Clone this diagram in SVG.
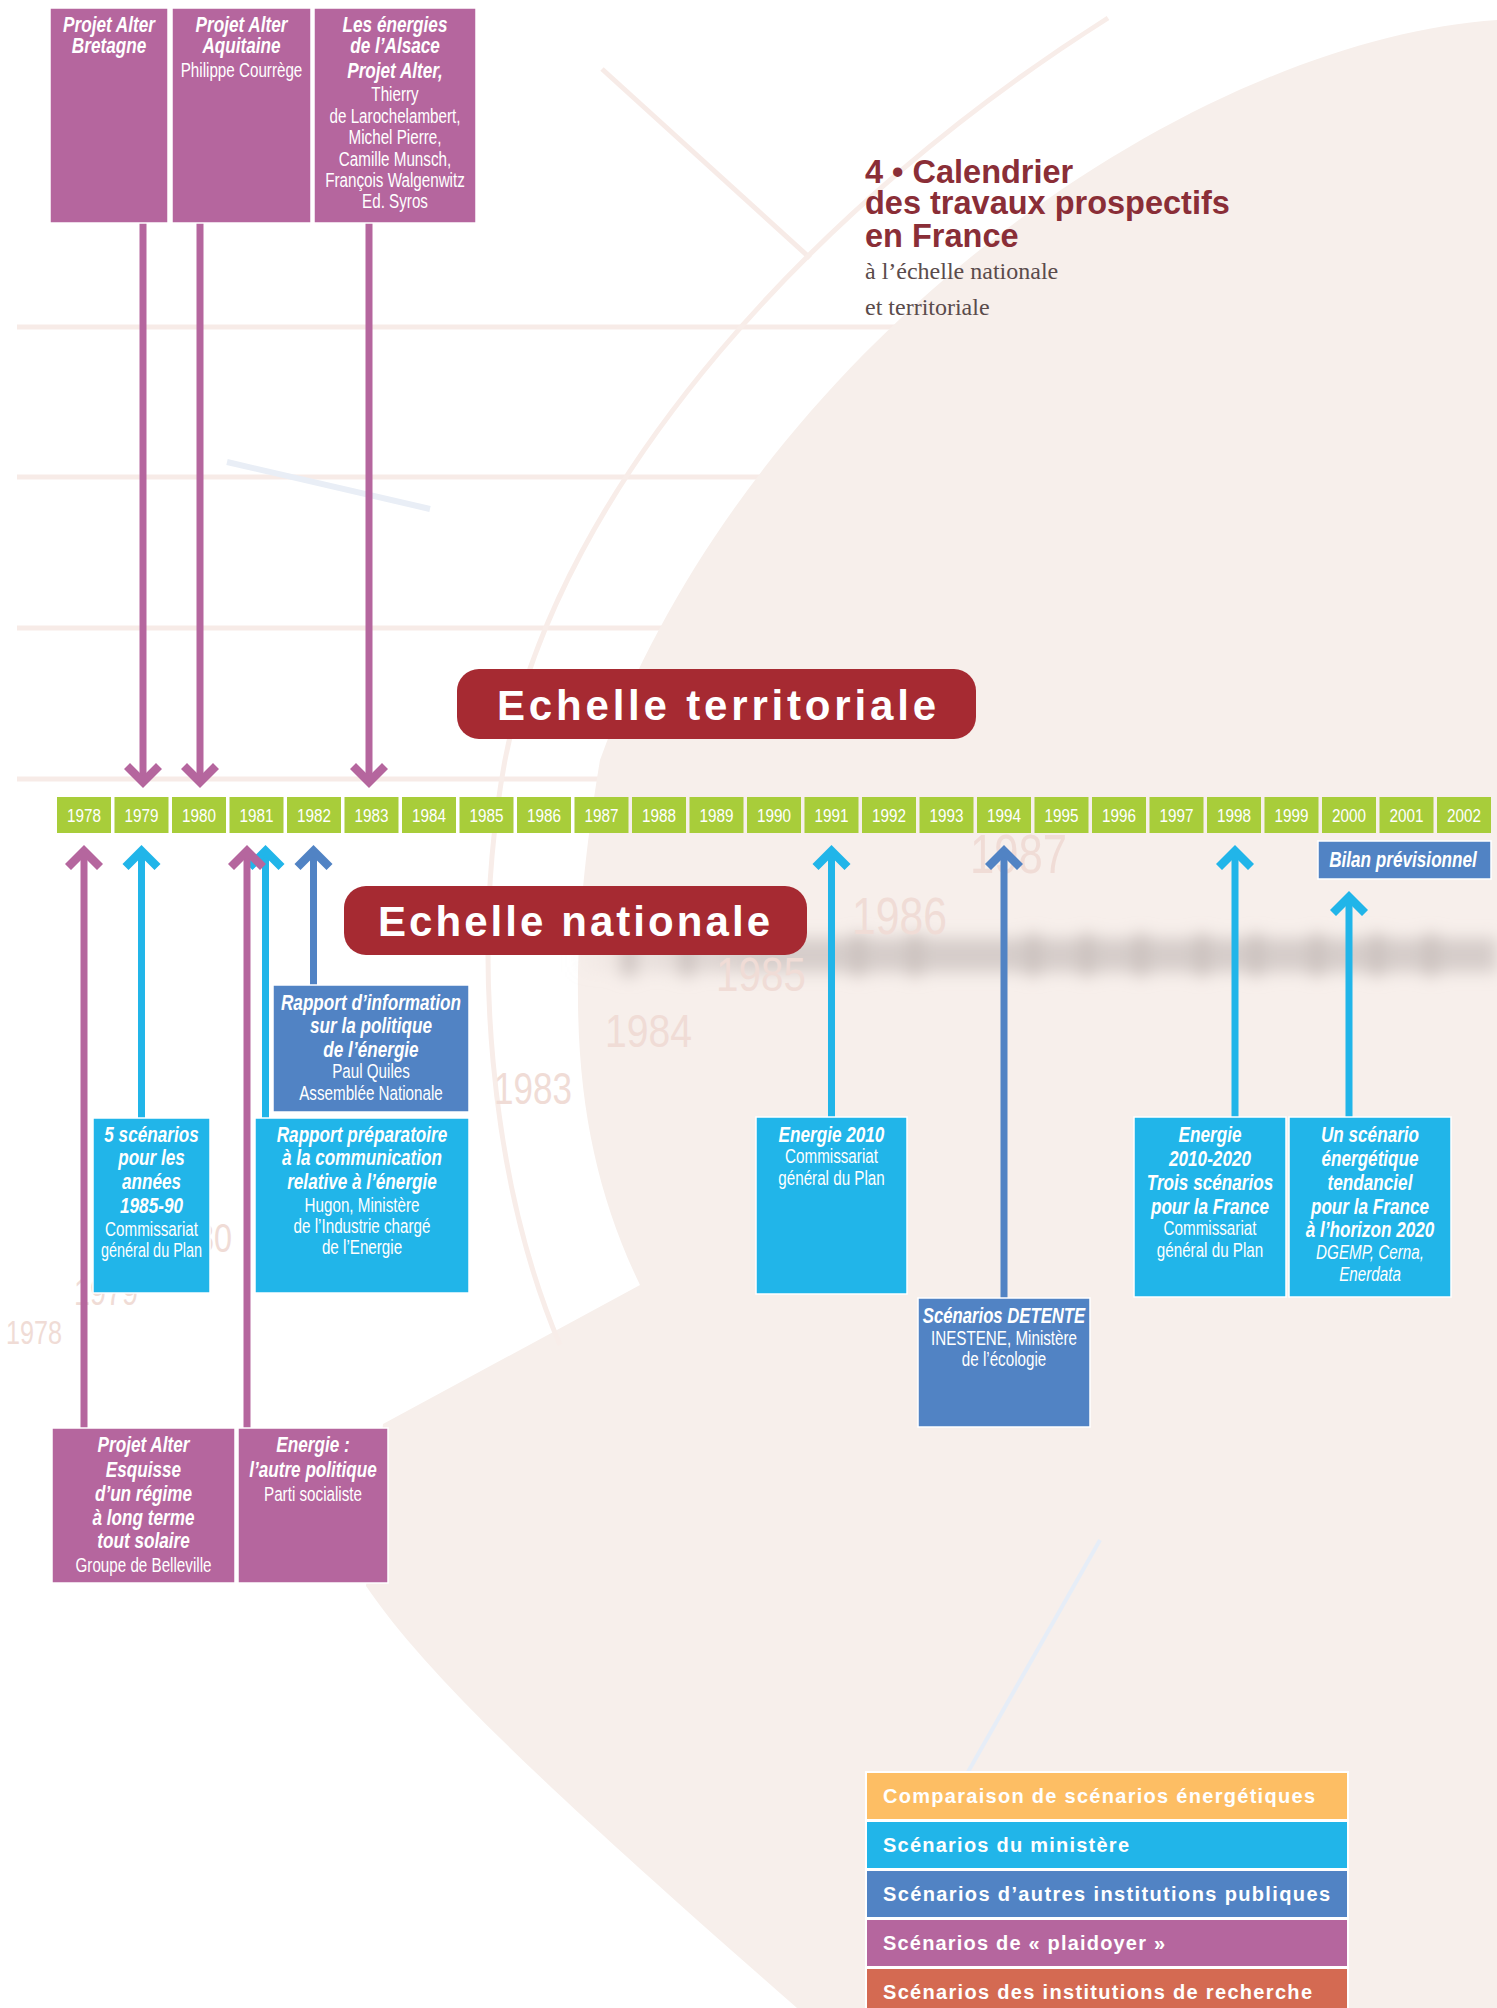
<svg xmlns="http://www.w3.org/2000/svg" width="1497" height="2008" viewBox="0 0 1497 2008">
<defs>
<style>
.yr{font-family:"Liberation Sans",Arial,sans-serif;font-size:18px;fill:#fff;text-anchor:middle}
.t{font-family:"Liberation Sans",Arial,sans-serif;fill:#fff;text-anchor:middle}
.b{font-weight:bold;font-style:italic;font-size:22px}
.r{font-size:19.5px}
.ri{font-size:19.5px;font-style:italic}
.box{stroke:#fff;stroke-width:1.5}
.pu{fill:#B5669E}.cy{fill:#21B5E9}.bl{fill:#5183C4}
.lpu{stroke:#B5669E}.lcy{stroke:#21B5E9}.lbl{stroke:#5183C4}
.ln{stroke-width:7;fill:none}
.cell{fill:#A8CD3A}
.fy{font-family:"Liberation Sans",Arial,sans-serif;fill:#F0DCD6}
.ban{font-family:"Liberation Sans",Arial,sans-serif;font-weight:bold;font-size:42px;fill:#fff}
.leg{font-family:"Liberation Sans",Arial,sans-serif;font-weight:bold;font-size:20px;fill:#fff}
.pale{stroke:#F7EBE7;fill:none}
</style>
<path id="up" d="M0,0 L19,19 L13,25 L0,12 L-13,25 L-19,19 Z"/>
<path id="dn" d="M0,0 L19,-19 L13,-25 L0,-12 L-13,-25 L-19,-19 Z"/>
<filter id="blur" x="-20%" y="-100%" width="140%" height="300%"><feGaussianBlur stdDeviation="8"/></filter>
<linearGradient id="bandg" x1="570" y1="0" x2="760" y2="0" gradientUnits="userSpaceOnUse">
<stop offset="0" stop-color="#D6CDCA" stop-opacity="0"/>
<stop offset="1" stop-color="#D6CDCA" stop-opacity="1"/>
</linearGradient>
</defs>

<g id="background">
<rect x="0" y="0" width="1497" height="2008" fill="#fff"/>
<g class="pale" stroke-width="5">
<line x1="17" y1="327" x2="1000" y2="327"/>
<line x1="17" y1="477" x2="900" y2="477"/>
<line x1="17" y1="628" x2="800" y2="628"/>
<line x1="17" y1="779" x2="700" y2="779"/>
<line x1="602" y1="69" x2="810" y2="258"/>
</g>
<path d="M1497,20 C1200,40 760,330 600,760 C560,1000 575,1150 640,1285 L383,1424 L366,1586 C430,1680 560,1800 797,2008 L1497,2008 Z" fill="#F7EFEB"/>
<path stroke="#F8EDE9" fill="none" stroke-width="5" d="M1108,18 C820,200 560,480 505,760 C470,950 490,1180 560,1345"/>
<line x1="227" y1="462" x2="430" y2="509" stroke="#E9EEF6" stroke-width="6"/>
<line x1="1100" y1="1540" x2="968" y2="1772" stroke="#E6EDF7" stroke-width="4"/>
<g filter="url(#blur)">
<rect x="570" y="938" width="927" height="34" fill="url(#bandg)"/>
<g fill="#CBC1BE">
<rect x="622" y="934" width="14" height="42"/><rect x="680" y="934" width="14" height="42"/>
<rect x="851" y="934" width="14" height="42"/><rect x="908" y="934" width="14" height="42"/>
<rect x="1026" y="934" width="14" height="42"/><rect x="1080" y="934" width="14" height="42"/>
<rect x="1134" y="934" width="14" height="42"/><rect x="1195" y="934" width="14" height="42"/>
<rect x="1249" y="934" width="14" height="42"/><rect x="1310" y="934" width="14" height="42"/>
<rect x="1370" y="934" width="14" height="42"/><rect x="1424" y="934" width="14" height="42"/>
</g>
</g>
<text class="fy" x="970" y="873" font-size="55" textLength="97" lengthAdjust="spacingAndGlyphs">1987</text>
<text class="fy" x="852" y="934" font-size="52" textLength="95" lengthAdjust="spacingAndGlyphs">1986</text>
<text class="fy" x="716" y="991" font-size="49" textLength="90" lengthAdjust="spacingAndGlyphs">1985</text>
<text class="fy" x="605" y="1047" font-size="47" textLength="87" lengthAdjust="spacingAndGlyphs">1984</text>
<text class="fy" x="494" y="1104" font-size="44" textLength="78" lengthAdjust="spacingAndGlyphs">1983</text>
<text class="fy" x="160" y="1252" font-size="40" textLength="72" lengthAdjust="spacingAndGlyphs">1980</text>
<text class="fy" x="74" y="1305" font-size="36" textLength="64" lengthAdjust="spacingAndGlyphs">1979</text>
<text class="fy" x="6" y="1344" font-size="33" textLength="56" lengthAdjust="spacingAndGlyphs">1978</text>
</g>

<g id="title">
<g font-family="Liberation Sans, Arial, sans-serif" font-weight="bold" font-size="32.5" fill="#8A2E37">
<text x="865" y="183">4 • Calendrier</text>
<text x="865" y="214">des travaux prospectifs</text>
<text x="865" y="247">en France</text>
</g>
<g font-family="Liberation Serif, Times New Roman, serif" font-size="24" fill="#5A4B4B">
<text x="865" y="279">à l’échelle nationale</text>
<text x="865" y="315">et territoriale</text>
</g>
</g>

<g id="banner-territoriale">
<rect x="457" y="669" width="519" height="70" rx="22" fill="#A62A32"/>
<text class="ban" x="497" y="720" textLength="439" lengthAdjust="spacing">Echelle territoriale</text>
</g>
<g id="banner-nationale">
<rect x="344" y="886" width="463" height="69" rx="22" fill="#A62A32"/>
<text class="ban" x="378" y="936" textLength="392" lengthAdjust="spacing">Echelle nationale</text>
</g>

<g id="timeline">
<rect class="cell" x="57" y="797" width="54" height="36"/><text class="yr" x="84" y="822" textLength="34" lengthAdjust="spacingAndGlyphs">1978</text>
<rect class="cell" x="114.5" y="797" width="54" height="36"/><text class="yr" x="141.5" y="822" textLength="34" lengthAdjust="spacingAndGlyphs">1979</text>
<rect class="cell" x="172" y="797" width="54" height="36"/><text class="yr" x="199" y="822" textLength="34" lengthAdjust="spacingAndGlyphs">1980</text>
<rect class="cell" x="229.5" y="797" width="54" height="36"/><text class="yr" x="256.5" y="822" textLength="34" lengthAdjust="spacingAndGlyphs">1981</text>
<rect class="cell" x="287" y="797" width="54" height="36"/><text class="yr" x="314" y="822" textLength="34" lengthAdjust="spacingAndGlyphs">1982</text>
<rect class="cell" x="344.5" y="797" width="54" height="36"/><text class="yr" x="371.5" y="822" textLength="34" lengthAdjust="spacingAndGlyphs">1983</text>
<rect class="cell" x="402" y="797" width="54" height="36"/><text class="yr" x="429" y="822" textLength="34" lengthAdjust="spacingAndGlyphs">1984</text>
<rect class="cell" x="459.5" y="797" width="54" height="36"/><text class="yr" x="486.5" y="822" textLength="34" lengthAdjust="spacingAndGlyphs">1985</text>
<rect class="cell" x="517" y="797" width="54" height="36"/><text class="yr" x="544" y="822" textLength="34" lengthAdjust="spacingAndGlyphs">1986</text>
<rect class="cell" x="574.5" y="797" width="54" height="36"/><text class="yr" x="601.5" y="822" textLength="34" lengthAdjust="spacingAndGlyphs">1987</text>
<rect class="cell" x="632" y="797" width="54" height="36"/><text class="yr" x="659" y="822" textLength="34" lengthAdjust="spacingAndGlyphs">1988</text>
<rect class="cell" x="689.5" y="797" width="54" height="36"/><text class="yr" x="716.5" y="822" textLength="34" lengthAdjust="spacingAndGlyphs">1989</text>
<rect class="cell" x="747" y="797" width="54" height="36"/><text class="yr" x="774" y="822" textLength="34" lengthAdjust="spacingAndGlyphs">1990</text>
<rect class="cell" x="804.5" y="797" width="54" height="36"/><text class="yr" x="831.5" y="822" textLength="34" lengthAdjust="spacingAndGlyphs">1991</text>
<rect class="cell" x="862" y="797" width="54" height="36"/><text class="yr" x="889" y="822" textLength="34" lengthAdjust="spacingAndGlyphs">1992</text>
<rect class="cell" x="919.5" y="797" width="54" height="36"/><text class="yr" x="946.5" y="822" textLength="34" lengthAdjust="spacingAndGlyphs">1993</text>
<rect class="cell" x="977" y="797" width="54" height="36"/><text class="yr" x="1004" y="822" textLength="34" lengthAdjust="spacingAndGlyphs">1994</text>
<rect class="cell" x="1034.5" y="797" width="54" height="36"/><text class="yr" x="1061.5" y="822" textLength="34" lengthAdjust="spacingAndGlyphs">1995</text>
<rect class="cell" x="1092" y="797" width="54" height="36"/><text class="yr" x="1119" y="822" textLength="34" lengthAdjust="spacingAndGlyphs">1996</text>
<rect class="cell" x="1149.5" y="797" width="54" height="36"/><text class="yr" x="1176.5" y="822" textLength="34" lengthAdjust="spacingAndGlyphs">1997</text>
<rect class="cell" x="1207" y="797" width="54" height="36"/><text class="yr" x="1234" y="822" textLength="34" lengthAdjust="spacingAndGlyphs">1998</text>
<rect class="cell" x="1264.5" y="797" width="54" height="36"/><text class="yr" x="1291.5" y="822" textLength="34" lengthAdjust="spacingAndGlyphs">1999</text>
<rect class="cell" x="1322" y="797" width="54" height="36"/><text class="yr" x="1349" y="822" textLength="34" lengthAdjust="spacingAndGlyphs">2000</text>
<rect class="cell" x="1379.5" y="797" width="54" height="36"/><text class="yr" x="1406.5" y="822" textLength="34" lengthAdjust="spacingAndGlyphs">2001</text>
<rect class="cell" x="1437" y="797" width="54" height="36"/><text class="yr" x="1464" y="822" textLength="34" lengthAdjust="spacingAndGlyphs">2002</text>
</g>

<g id="connectors">
<line class="ln lpu" x1="143" y1="223" x2="143" y2="778"/><use href="#dn" x="143" y="788" class="pu"/>
<line class="ln lpu" x1="200" y1="223" x2="200" y2="778"/><use href="#dn" x="200" y="788" class="pu"/>
<line class="ln lpu" x1="369" y1="223" x2="369" y2="778"/><use href="#dn" x="369" y="788" class="pu"/>
<line class="ln lpu" x1="84" y1="855" x2="84" y2="1428"/><use href="#up" x="84" y="845" class="pu"/>
<line class="ln lcy" x1="141.5" y1="855" x2="141.5" y2="1118"/><use href="#up" x="141.5" y="845" class="cy"/>
<line class="ln lcy" x1="265.5" y1="855" x2="265.5" y2="1118"/><use href="#up" x="265.5" y="845" class="cy"/>
<line class="ln lpu" x1="247" y1="855" x2="247" y2="1428"/><use href="#up" x="247" y="845" class="pu"/>
<line class="ln lbl" x1="313.5" y1="855" x2="313.5" y2="985"/><use href="#up" x="313.5" y="845" class="bl"/>
<line class="ln lcy" x1="831.5" y1="855" x2="831.5" y2="1117"/><use href="#up" x="831.5" y="845" class="cy"/>
<line class="ln lbl" x1="1004" y1="855" x2="1004" y2="1298"/><use href="#up" x="1004" y="845" class="bl"/>
<line class="ln lcy" x1="1235" y1="855" x2="1235" y2="1117"/><use href="#up" x="1235" y="845" class="cy"/>
<line class="ln lcy" x1="1349" y1="901" x2="1349" y2="1117"/><use href="#up" x="1349" y="891" class="cy"/>
</g>

<g id="n-bretagne">
<rect class="box pu" x="50" y="8" width="118" height="215"/>
<text class="t b" transform="translate(109 32) scale(.78 1)">Projet Alter</text>
<text class="t b" transform="translate(109 53) scale(.78 1)">Bretagne</text>
</g>
<g id="n-aquitaine">
<rect class="box pu" x="172" y="8" width="139" height="215"/>
<text class="t b" transform="translate(241.5 32) scale(.78 1)">Projet Alter</text>
<text class="t b" transform="translate(241.5 53) scale(.78 1)">Aquitaine</text>
<text class="t r" transform="translate(241.5 77) scale(.78 1)">Philippe Courrège</text>
</g>
<g id="n-alsace">
<rect class="box pu" x="314" y="8" width="162" height="215"/>
<text class="t b" transform="translate(395 32) scale(.78 1)">Les énergies</text>
<text class="t b" transform="translate(395 53) scale(.78 1)">de l’Alsace</text>
<text class="t b" transform="translate(395 78) scale(.78 1)">Projet Alter,</text>
<text class="t r" transform="translate(395 101) scale(.78 1)">Thierry</text>
<text class="t r" transform="translate(395 123) scale(.78 1)">de Larochelambert,</text>
<text class="t r" transform="translate(395 144) scale(.78 1)">Michel Pierre,</text>
<text class="t r" transform="translate(395 166) scale(.78 1)">Camille Munsch,</text>
<text class="t r" transform="translate(395 187) scale(.78 1)">François Walgenwitz</text>
<text class="t r" transform="translate(395 208) scale(.78 1)">Ed. Syros</text>
</g>

<g id="n-bilan">
<rect class="box bl" x="1318" y="841" width="173" height="38"/>
<text class="t b" transform="translate(1403 867) scale(.78 1)">Bilan prévisionnel</text>
</g>

<g id="n-rapport-info">
<rect class="box bl" x="273" y="985" width="196" height="127"/>
<text class="t b" transform="translate(371 1010) scale(.78 1)">Rapport d’information</text>
<text class="t b" transform="translate(371 1033) scale(.78 1)">sur la politique</text>
<text class="t b" transform="translate(371 1057) scale(.78 1)">de l’énergie</text>
<text class="t r" transform="translate(371 1078) scale(.78 1)">Paul Quiles</text>
<text class="t r" transform="translate(371 1100) scale(.78 1)">Assemblée Nationale</text>
</g>

<g id="n-5scenarios">
<rect class="box cy" x="93" y="1118" width="117" height="175"/>
<text class="t b" transform="translate(151.5 1142) scale(.78 1)">5 scénarios</text>
<text class="t b" transform="translate(151.5 1165) scale(.78 1)">pour les</text>
<text class="t b" transform="translate(151.5 1189) scale(.78 1)">années</text>
<text class="t b" transform="translate(151.5 1213) scale(.78 1)">1985-90</text>
<text class="t r" transform="translate(151.5 1236) scale(.78 1)">Commissariat</text>
<text class="t r" transform="translate(151.5 1257) scale(.74 1)">général du Plan</text>
</g>

<g id="n-rapport-prep">
<rect class="box cy" x="255" y="1118" width="214" height="175"/>
<text class="t b" transform="translate(362 1142) scale(.78 1)">Rapport préparatoire</text>
<text class="t b" transform="translate(362 1165) scale(.78 1)">à la communication</text>
<text class="t b" transform="translate(362 1189) scale(.78 1)">relative à l’énergie</text>
<text class="t r" transform="translate(362 1212) scale(.78 1)">Hugon, Ministère</text>
<text class="t r" transform="translate(362 1233) scale(.78 1)">de l’Industrie chargé</text>
<text class="t r" transform="translate(362 1254) scale(.78 1)">de l’Energie</text>
</g>

<g id="n-energie2010">
<rect class="box cy" x="756" y="1117" width="151" height="177"/>
<text class="t b" transform="translate(831.5 1142) scale(.78 1)">Energie 2010</text>
<text class="t r" transform="translate(831.5 1163) scale(.78 1)">Commissariat</text>
<text class="t r" transform="translate(831.5 1185) scale(.78 1)">général du Plan</text>
</g>

<g id="n-detente">
<rect class="box bl" x="918" y="1298" width="172" height="129"/>
<text class="t b" transform="translate(1004 1323) scale(.76 1)">Scénarios DETENTE</text>
<text class="t r" transform="translate(1004 1345) scale(.78 1)">INESTENE, Ministère</text>
<text class="t r" transform="translate(1004 1366) scale(.78 1)">de l’écologie</text>
</g>

<g id="n-energie2020">
<rect class="box cy" x="1134" y="1117" width="152" height="180"/>
<text class="t b" transform="translate(1210 1142) scale(.78 1)">Energie</text>
<text class="t b" transform="translate(1210 1166) scale(.78 1)">2010-2020</text>
<text class="t b" transform="translate(1210 1190) scale(.78 1)">Trois scénarios</text>
<text class="t b" transform="translate(1210 1214) scale(.78 1)">pour la France</text>
<text class="t r" transform="translate(1210 1235) scale(.78 1)">Commissariat</text>
<text class="t r" transform="translate(1210 1257) scale(.78 1)">général du Plan</text>
</g>

<g id="n-tendanciel">
<rect class="box cy" x="1289" y="1117" width="162" height="180"/>
<text class="t b" transform="translate(1370 1142) scale(.78 1)">Un scénario</text>
<text class="t b" transform="translate(1370 1166) scale(.78 1)">énergétique</text>
<text class="t b" transform="translate(1370 1190) scale(.78 1)">tendanciel</text>
<text class="t b" transform="translate(1370 1214) scale(.78 1)">pour la France</text>
<text class="t b" transform="translate(1370 1237) scale(.78 1)">à l’horizon 2020</text>
<text class="t ri" transform="translate(1370 1259) scale(.78 1)">DGEMP, Cerna,</text>
<text class="t ri" transform="translate(1370 1281) scale(.78 1)">Enerdata</text>
</g>

<g id="n-esquisse">
<rect class="box pu" x="52" y="1428" width="183" height="155"/>
<text class="t b" transform="translate(143.5 1452) scale(.78 1)">Projet Alter</text>
<text class="t b" transform="translate(143.5 1477) scale(.78 1)">Esquisse</text>
<text class="t b" transform="translate(143.5 1501) scale(.78 1)">d’un régime</text>
<text class="t b" transform="translate(143.5 1525) scale(.78 1)">à long terme</text>
<text class="t b" transform="translate(143.5 1548) scale(.78 1)">tout solaire</text>
<text class="t r" transform="translate(143.5 1572) scale(.78 1)">Groupe de Belleville</text>
</g>

<g id="n-autre-politique">
<rect class="box pu" x="238" y="1428" width="150" height="155"/>
<text class="t b" transform="translate(313 1452) scale(.78 1)">Energie :</text>
<text class="t b" transform="translate(313 1477) scale(.78 1)">l’autre politique</text>
<text class="t r" transform="translate(313 1501) scale(.78 1)">Parti socialiste</text>
</g>

<g id="legend">
<rect x="865" y="1771" width="484" height="240" fill="#fff"/>
<rect x="867" y="1773" width="480" height="46" fill="#FDBE64"/>
<text class="leg" x="883" y="1803" textLength="432" lengthAdjust="spacing">Comparaison de scénarios énergétiques</text>
<rect x="867" y="1822" width="480" height="46" fill="#21B5E9"/>
<text class="leg" x="883" y="1852" textLength="246" lengthAdjust="spacing">Scénarios du ministère</text>
<rect x="867" y="1871" width="480" height="46" fill="#5183C4"/>
<text class="leg" x="883" y="1901" textLength="447" lengthAdjust="spacing">Scénarios d’autres institutions publiques</text>
<rect x="867" y="1920" width="480" height="46" fill="#B5669E"/>
<text class="leg" x="883" y="1950" textLength="282" lengthAdjust="spacing">Scénarios de « plaidoyer »</text>
<rect x="867" y="1969" width="480" height="46" fill="#D46A52"/>
<text class="leg" x="883" y="1999" textLength="429" lengthAdjust="spacing">Scénarios des institutions de recherche</text>
</g>
</svg>
